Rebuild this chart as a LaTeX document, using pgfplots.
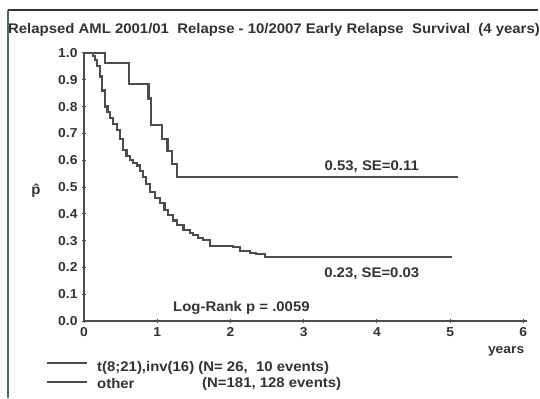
\documentclass[border=0pt]{standalone}
\usepackage{fontspec}
\setmainfont{Liberation Sans}[FakeStretch=1.07]
\usepackage{pgfplots}
\pgfplotsset{compat=1.18}
\definecolor{ink}{HTML}{333333}
\definecolor{crv}{HTML}{4C4C4C}
\definecolor{frm}{HTML}{4A6E62}
\begin{document}
\begin{tikzpicture}[x=1bp,y=1bp]
\useasboundingbox (0,0) rectangle (540,398);
\fill[white] (0,0) rectangle (540,398);
% frame
\draw[frm, line width=1.4bp] (8,0) -- (8,388);
\draw[ink, line width=1.4bp] (8,388) -- (538,388);
\node[ink, font=\bfseries\fontsize{14}{16}\selectfont, anchor=base] at (274,365) {Relapsed AML 2001/01\ \ Relapse - 10/2007 Early Relapse\ \ Survival\ \ (4 years)};
\begin{axis}[
  at={(84bp,77bp)}, anchor=south west,
  scale only axis, width=443bp, height=268bp,
  xmin=0, xmax=6.05, ymin=0, ymax=1.0,
  axis lines*=left,
  axis line style={crv, line width=1.6bp},
  clip=false,
  xtick={0,1,2,3,4,5,6},
  ytick={0,0.1,...,1.0},
  yticklabel style={/pgf/number format/fixed, /pgf/number format/fixed zerofill, /pgf/number format/precision=1, xshift=-1bp},
  /pgf/number format/assume math mode=true,
  tick style={crv, line width=1bp},
  tick align=center, major tick length=4bp,
  ticklabel style={ink, font=\bfseries\fontsize{13}{15}\selectfont},
  xticklabel style={yshift=-1bp},
]
\addplot[const plot, crv, line width=2.2bp] coordinates {
(0,1.0) (0.29,0.962) (0.61,0.885) (0.88,0.83) (0.91,0.73) (1.07,0.68) (1.14,0.633) (1.20,0.585) (1.27,0.536) (5.11,0.536)
};
\addplot[const plot, crv, line width=2.2bp] coordinates {
(0,1.0) (0.08,1.0) (0.12,0.99) (0.15,0.974) (0.18,0.95) (0.22,0.912) (0.25,0.86) (0.29,0.80) (0.32,0.78) (0.355,0.756) (0.40,0.735) (0.446,0.713) (0.49,0.68) (0.537,0.638) (0.58,0.615) (0.628,0.60) (0.67,0.59) (0.72,0.58) (0.76,0.56) (0.81,0.538) (0.85,0.51) (0.90,0.482) (0.97,0.46) (1.04,0.439) (1.10,0.415) (1.15,0.395) (1.21,0.375) (1.27,0.358) (1.36,0.34) (1.45,0.327) (1.49,0.32) (1.56,0.31) (1.63,0.302) (1.72,0.28) (2.04,0.275) (2.13,0.26) (2.27,0.253) (2.35,0.25) (2.47,0.24) (5.02,0.24)
};
\node[ink, font=\bfseries\fontsize{14}{16}\selectfont] at (axis cs:3.93,0.575) {0.53, SE=0.11};
\node[ink, font=\bfseries\fontsize{14}{16}\selectfont] at (axis cs:3.93,0.175) {0.23, SE=0.03};
\node[ink, font=\bfseries\fontsize{14}{16}\selectfont] at (axis cs:2.15,0.048) {Log-Rank p = .0059};
\node[ink, font=\bfseries\fontsize{13}{15}\selectfont, anchor=east] at (axis cs:6.06,-0.112) {years};
\end{axis}
\node[ink, font=\bfseries\fontsize{14}{16}\selectfont] at (36,207) {\^p};
\draw[crv, line width=1.6bp] (47,35) -- (87,35);
\draw[crv, line width=1.6bp] (47,16) -- (87,16);
\node[ink, font=\bfseries\fontsize{14}{16}\selectfont, anchor=west, inner sep=0] at (97,30) {t(8;21),inv(16) (N= 26,\ \ 10 events)};
\node[ink, font=\bfseries\fontsize{14}{16}\selectfont, anchor=west, inner sep=0] at (97,14) {other};
\node[ink, font=\bfseries\fontsize{14}{16}\selectfont, anchor=west, inner sep=0] at (202,14) {(N=181, 128 events)};
\end{tikzpicture}
\end{document}
